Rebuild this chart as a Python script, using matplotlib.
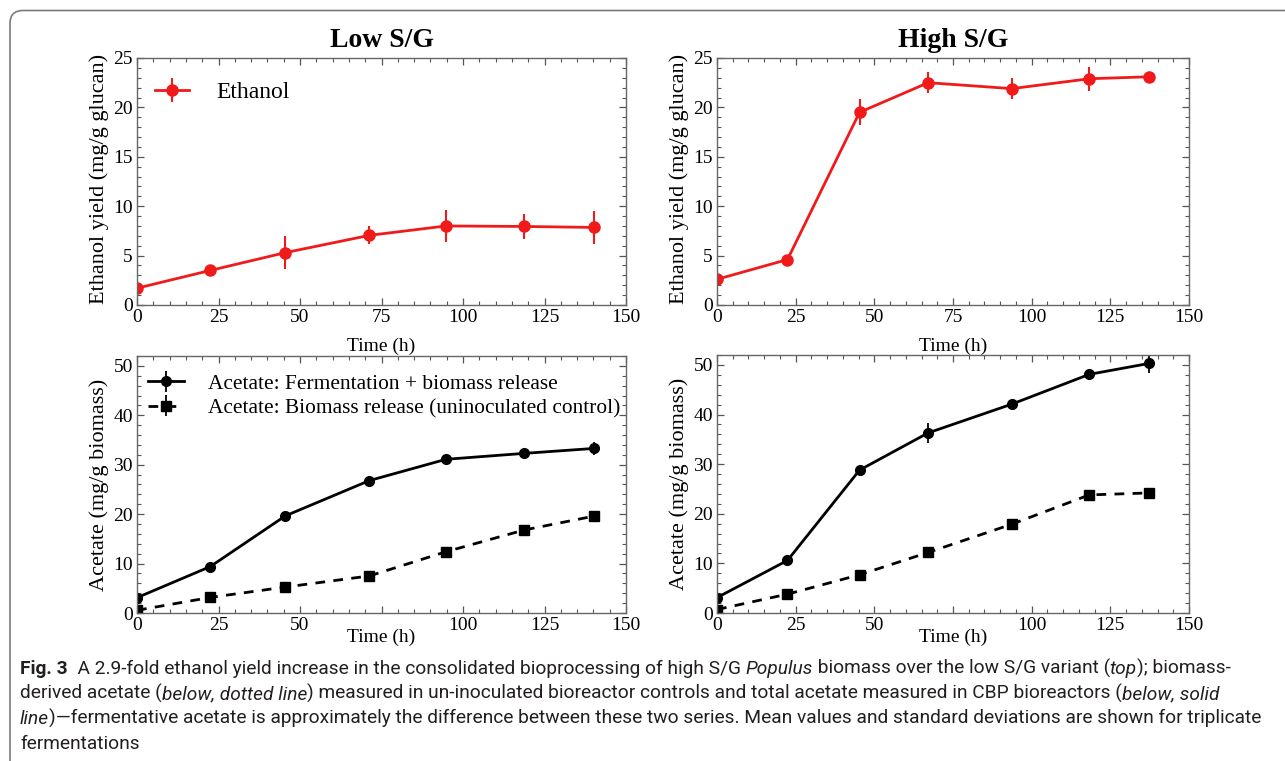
import matplotlib
matplotlib.use('Agg')
import matplotlib.pyplot as plt
from matplotlib.ticker import MultipleLocator, FuncFormatter
from matplotlib.patches import FancyBboxPatch
from matplotlib.transforms import IdentityTransform

# ---- data ----
low_t = [0, 22.5, 45.5, 71.3, 94.8, 118.8, 140.2]
high_t = [0, 22.4, 45.3, 67.1, 93.7, 118.3, 137.3]

low_eth = [1.7, 3.5, 5.3, 7.05, 8.0, 7.95, 7.85]
low_eth_sd = [0.3, 0.55, 1.7, 0.9, 1.6, 1.3, 1.65]
high_eth = [2.6, 4.6, 19.5, 22.5, 21.9, 22.9, 23.1]
high_eth_sd = [0.25, 0.2, 1.3, 1.05, 1.05, 1.2, 0.2]

low_ac_tot = [3.1, 9.4, 19.65, 26.8, 31.1, 32.3, 33.3]
low_ac_tot_sd = [0.5, 0.5, 0.8, 0.8, 0.5, 0.6, 1.3]
low_ac_ctl = [0.55, 3.15, 5.25, 7.5, 12.4, 16.8, 19.6]
low_ac_ctl_sd = [0.2, 0.3, 0.3, 0.4, 0.5, 0.5, 0.5]

high_ac_tot = [3.1, 10.6, 28.8, 36.3, 42.1, 48.1, 50.3]
high_ac_tot_sd = [0.4, 0.5, 0.7, 2.0, 0.5, 0.8, 1.85]
high_ac_ctl = [0.7, 3.8, 7.7, 12.2, 17.9, 23.8, 24.2]
high_ac_ctl_sd = [0.2, 0.3, 0.3, 0.4, 0.4, 0.5, 0.4]

titles = ['Low S/G', 'High S/G']

W, H = 1285, 761
SERIF = 'Liberation Serif'
plt.rcParams['font.family'] = [SERIF, 'DejaVu Serif']

fig = plt.figure(figsize=(W / 100, H / 100), dpi=100)


def px_axes(l, t, r, b):
    return fig.add_axes([l / W, 1 - b / H, (r - l) / W, (b - t) / H])


ax_tl = px_axes(137, 58, 626, 305)
ax_tr = px_axes(717, 58, 1189, 305)
ax_bl = px_axes(137, 356, 626, 613)
ax_br = px_axes(717, 355, 1189, 613)

RED = '#f01a1a'


def style(ax, ymax, ymaj, ymin):
    ax.set_xlim(0, 150)
    ax.set_ylim(0, ymax)
    ax.xaxis.set_major_locator(MultipleLocator(25))
    ax.xaxis.set_minor_locator(MultipleLocator(5))
    ax.yaxis.set_major_locator(MultipleLocator(ymaj))
    ax.yaxis.set_minor_locator(MultipleLocator(ymin))
    ax.tick_params(which='both', direction='in', top=True, right=True,
                   color='#555555', labelsize=14, pad=3)
    ax.tick_params(which='major', length=5, width=0.9)
    ax.tick_params(which='minor', length=3, width=0.8)
    for s in ax.spines.values():
        s.set_color('#666666')
        s.set_linewidth(1.0)


# ethanol panels
for ax, t, y, e, title in [(ax_tl, low_t, low_eth, low_eth_sd, titles[0]),
                           (ax_tr, high_t, high_eth, high_eth_sd, titles[1])]:
    ax.errorbar(t, y, yerr=e, color=RED, lw=2, marker='o', ms=8,
                elinewidth=1.5, capsize=0, label='Ethanol')
    style(ax, 25, 5, 1)
    ax.set_title(title, fontsize=20, fontweight='bold', pad=8)
    ax.set_ylabel('Ethanol yield (mg/g glucan)', fontsize=16)
    ax.set_xlabel('Time (h)', fontsize=14)
    ax.xaxis.set_label_coords(0.5, -0.166)
    ax.xaxis.label.set_va('center')
    ax.yaxis.set_label_coords(-0.058 if ax is ax_tl else -0.06, 0.51)

ax_tl.legend(loc='upper left', bbox_to_anchor=(0.037, 0.905), frameon=False,
             fontsize=17, handlelength=1.45, handletextpad=1.15, borderpad=0,
             borderaxespad=0)

# acetate panels (the 75 h tick label is covered by the axis label)
hide75 = FuncFormatter(lambda v, p: '' if abs(v - 75) < 1e-6 else '%d' % v)
for ax, t, a1, s1, a2, s2 in [(ax_bl, low_t, low_ac_tot, low_ac_tot_sd, low_ac_ctl, low_ac_ctl_sd),
                              (ax_br, high_t, high_ac_tot, high_ac_tot_sd, high_ac_ctl, high_ac_ctl_sd)]:
    ax.errorbar(t, a1, yerr=s1, color='black', lw=2, marker='o', ms=7,
                elinewidth=1.3, capsize=0,
                label='Acetate: Fermentation + biomass release')
    ax.errorbar(t, a2, yerr=s2, color='black', lw=2, ls=(0, (3.5, 3)),
                marker='s', ms=7, elinewidth=1.3, capsize=0,
                label='Acetate: Biomass release (uninoculated control)')
    style(ax, 52, 10, 2)
    ax.xaxis.set_major_formatter(hide75)
    ax.set_ylabel('Acetate (mg/g biomass)', fontsize=16)
    ax.set_xlabel('Time (h)', fontsize=14)
    ax.xaxis.set_label_coords(0.5, -0.093)
    ax.xaxis.label.set_va('center')
    ax.yaxis.set_label_coords(-0.058 if ax is ax_bl else -0.06, 0.5)

ax_bl.legend(loc='upper left', bbox_to_anchor=(0.022, 0.93), frameon=False,
             fontsize=15.4, handlelength=1.7, handletextpad=1.1, borderpad=0,
             borderaxespad=0, labelspacing=0.2)

# outer rounded frame
frame = FancyBboxPatch((10, -30), 1320, H - 10.5 + 30,
                       boxstyle='round,pad=0,rounding_size=13',
                       transform=IdentityTransform(), fill=False,
                       edgecolor='#7a7a7a', linewidth=1.2)
fig.add_artist(frame)

# caption
CAP = ['Roboto', 'DejaVu Sans']
cap_size = 13.8
cap_color = '#231f20'
lines = [
    [('Fig. 3', 'normal', 'bold'), ('  A 2.9-fold ethanol yield increase in the consolidated bioprocessing of high S/G ', 'normal', 'normal'),
     ('Populus', 'italic', 'normal'), (' biomass over the low S/G variant (', 'normal', 'normal'),
     ('top', 'italic', 'normal'), ('); biomass-', 'normal', 'normal')],
    [('derived acetate (', 'normal', 'normal'), ('below, dotted line', 'italic', 'normal'),
     (') measured in un-inoculated bioreactor controls and total acetate measured in CBP bioreactors (', 'normal', 'normal'),
     ('below, solid', 'italic', 'normal')],
    [('line', 'italic', 'normal'),
     (')\u2014fermentative acetate is approximately the difference between these two series. Mean values and standard deviations are shown for triplicate', 'normal', 'normal')],
    [('fermentations', 'normal', 'normal')],
]
baselines = [674, 699, 724, 749]
renderer = fig.canvas.get_renderer()
for runs, yb in zip(lines, baselines):
    x = 20
    for s, st, wt in runs:
        txt = fig.text(x, H - yb, s, transform=IdentityTransform(), family=CAP,
                       fontsize=cap_size, style=st, weight=wt, color=cap_color,
                       va='baseline', ha='left')
        x = txt.get_window_extent(renderer).x1

fig.savefig('out.png', dpi=100)
